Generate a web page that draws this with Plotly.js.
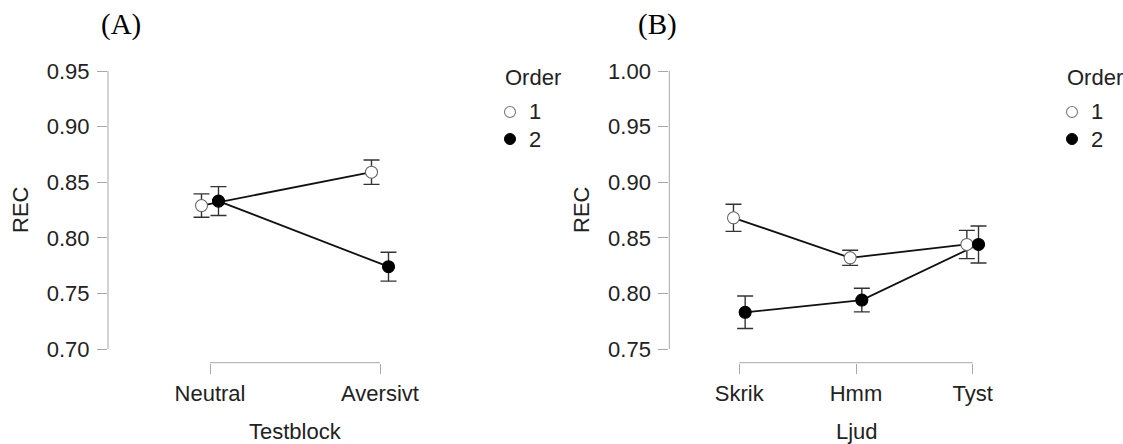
<!DOCTYPE html>
<html>
<head>
<meta charset="utf-8">
<script src="https://cdn.plot.ly/plotly-3.0.1.min.js"></script>
<style>html,body{margin:0;padding:0;background:#fff;}#chart{width:1123px;height:444px;}</style>
</head>
<body>
<div id="chart"></div>
<script>
// ---- data ----
const testblock = ['Neutral', 'Aversivt'];
const recA_order1 = [0.829, 0.859];
const errA_order1 = [0.0105, 0.011];
const recA_order2 = [0.833, 0.774];
const errA_order2 = [0.013, 0.013];

const ljud = ['Skrik', 'Hmm', 'Tyst'];
const recB_order1 = [0.868, 0.832, 0.844];
const errB_order1 = [0.0122, 0.0068, 0.0127];
const recB_order2 = [0.783, 0.794, 0.844];
const errB_order2 = [0.0146, 0.0106, 0.0166];

const ticksA = [0.70, 0.75, 0.80, 0.85, 0.90, 0.95];
const ticksB = [0.75, 0.80, 0.85, 0.90, 0.95, 1.00];
const orderLevels = ['1', '2'];

// ---- styling ----
const W = 1123, H = 444;
const px = v => v / W;
const py = v => (H - v) / H;
const DODGE = 0.05;
const FONT = 'Liberation Sans, Arial, Helvetica, sans-serif';
const FS = 22;
const TXT = '#222';
const AX = '#a8a8a8';

function idx(arr, shift) { return arr.map((_, i) => i + shift); }

function lineTrace(cats, vals, shift, xa, ya) {
  return {x: idx(cats, shift), y: vals, xaxis: xa, yaxis: ya, mode: 'lines',
    line: {color: '#111', width: 1.8}, hoverinfo: 'skip', showlegend: false};
}
function pointTrace(cats, vals, errs, shift, filled, xa, ya, name) {
  return {x: idx(cats, shift), y: vals, xaxis: xa, yaxis: ya, mode: 'markers', name: name,
    marker: {size: 12, color: filled ? '#000' : '#fff',
             line: {color: filled ? '#000' : '#666', width: 1.1}},
    error_y: {type: 'data', array: errs, visible: true, color: '#333', thickness: 1.4, width: 8},
    showlegend: false};
}

const data = [
  lineTrace(testblock, recA_order1, -DODGE, 'x', 'y'),
  lineTrace(testblock, recA_order2, DODGE, 'x', 'y'),
  lineTrace(ljud, recB_order1, -DODGE, 'x2', 'y2'),
  lineTrace(ljud, recB_order2, DODGE, 'x2', 'y2'),
  pointTrace(testblock, recA_order1, errA_order1, -DODGE, false, 'x', 'y', 'Order 1'),
  pointTrace(testblock, recA_order2, errA_order2, DODGE, true, 'x', 'y', 'Order 2'),
  pointTrace(ljud, recB_order1, errB_order1, -DODGE, false, 'x2', 'y2', 'Order 1'),
  pointTrace(ljud, recB_order2, errB_order2, DODGE, true, 'x2', 'y2', 'Order 2')
];

const PXU = 1112; // pixels per REC unit
const yTop = 65, yBot = 362.7, yMax = 71, yMin = 349;
function yRange(lo, hi) { return [lo - (yBot - yMin) / PXU, hi + (yMax - yTop) / PXU]; }

const tickFont = {family: FONT, size: FS, color: TXT};
function xaxis(domain, cats) {
  return {domain: domain, range: [-0.6, cats.length - 1 + 0.6], tickvals: idx(cats, 0), ticktext: cats,
    ticks: 'outside', ticklen: 10, tickcolor: AX, tickwidth: 1, showline: false, showgrid: false,
    zeroline: false, tickfont: tickFont, fixedrange: true, ticklabelstandoff: 1};
}
function yaxis(xa, ticks) {
  return {domain: [py(yBot), py(yTop)], anchor: xa, range: yRange(ticks[0], ticks[ticks.length - 1]),
    tickvals: ticks, tickformat: '.2f', ticks: 'outside', ticklen: 10, tickcolor: AX, tickwidth: 1,
    showline: false, showgrid: false, zeroline: false, tickfont: tickFont, fixedrange: true,
    ticklabelstandoff: 3};
}

function axisLines(xa, ya, ncat, lo, hi) {
  return [
    {type: 'line', xref: xa + ' domain', x0: 0, x1: 0, yref: ya, y0: lo, y1: hi, line: {color: AX, width: 1}},
    {type: 'line', xref: xa, x0: 0, x1: ncat - 1, yref: ya + ' domain', y0: 0, y1: 0, line: {color: AX, width: 1}}
  ];
}

function legendShapes(mx) {
  return [
    {type: 'circle', xref: 'paper', yref: 'paper', x0: px(mx - 5.5), x1: px(mx + 5.5), y0: py(112 + 5.5), y1: py(112 - 5.5),
     line: {color: '#777', width: 1.1}, fillcolor: '#fff'},
    {type: 'circle', xref: 'paper', yref: 'paper', x0: px(mx - 5.5), x1: px(mx + 5.5), y0: py(139 + 5.5), y1: py(139 - 5.5),
     line: {color: '#000', width: 1}, fillcolor: '#000'}
  ];
}

function ann(text, x, y, opts) {
  return Object.assign({text: text, xref: 'paper', yref: 'paper', x: px(x), y: py(y), showarrow: false,
    xanchor: 'center', yanchor: 'middle', font: {family: FONT, size: FS, color: TXT}}, opts || {});
}
function legendAnns(tx, mx) {
  return [
    ann('Order', tx, 77, {xanchor: 'left'}),
    ann(orderLevels[0], mx + 17, 112, {xanchor: 'left'}),
    ann(orderLevels[1], mx + 17, 139, {xanchor: 'left'})
  ];
}

const serif = {family: 'Liberation Serif, Times New Roman, serif', size: 29, color: '#000'};

const layout = {
  width: W, height: H, margin: {l: 0, r: 0, t: 0, b: 0},
  paper_bgcolor: '#fff', plot_bgcolor: '#fff', showlegend: false,
  xaxis: xaxis([px(108), px(482)], testblock),
  yaxis: yaxis('x', ticksA),
  xaxis2: xaxis([px(669.3), px(1042.7)], ljud),
  yaxis2: yaxis('x2', ticksB),
  shapes: [].concat(
    axisLines('x', 'y', testblock.length, ticksA[0], ticksA[ticksA.length - 1]),
    axisLines('x2', 'y2', ljud.length, ticksB[0], ticksB[ticksB.length - 1]),
    legendShapes(510), legendShapes(1072)
  ),
  annotations: [].concat(
    [ann('(A)', 121, 25, {font: serif}), ann('(B)', 657.5, 25, {font: serif}),
     ann('REC', 20, 210, {textangle: -90}), ann('REC', 581, 210, {textangle: -90}),
     ann('Testblock', 295, 431.7), ann('Ljud', 856.7, 431.7)],
    legendAnns(503, 510), legendAnns(1065, 1072)
  )
};

Plotly.newPlot('chart', data, layout, {displayModeBar: false, staticPlot: true});
</script>
</body>
</html>
